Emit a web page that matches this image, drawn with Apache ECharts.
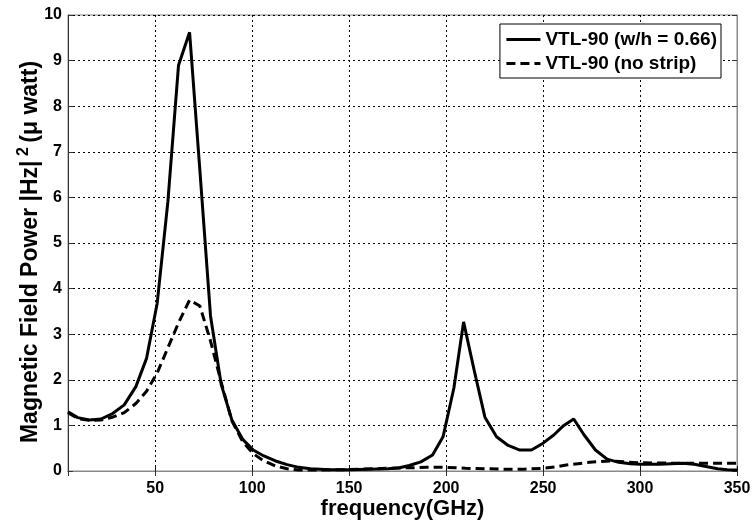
<!DOCTYPE html>
<html><head><meta charset="utf-8">
<script src="https://cdn.jsdelivr.net/npm/echarts@6/dist/echarts.min.js"></script>
<style>html,body{margin:0;padding:0;background:#fff}#c{width:752px;height:520px}</style>
</head><body><div id="c"></div>
<script>
// VTL-90 (w/h = 0.66)
const stripFreq = [5, 10, 16, 22, 28, 34, 40, 45.5, 51, 56.5, 62, 67.7, 73, 78.5, 84, 89.5, 95, 100.5, 106, 112, 118, 124, 130, 140, 150, 160, 170, 176, 181, 187, 193, 198.4, 204, 209, 214.5, 220, 226, 232, 238, 244, 250, 255.5, 260.7, 265.8, 271, 277, 283, 289, 295, 300, 310, 322, 328, 334, 340, 345, 350];
const stripPower = [1.30, 1.17, 1.12, 1.14, 1.26, 1.45, 1.85, 2.47, 3.68, 5.9, 8.9, 9.62, 6.6, 3.4, 1.9, 1.12, 0.7, 0.46, 0.33, 0.22, 0.14, 0.08, 0.05, 0.03, 0.03, 0.04, 0.05, 0.07, 0.12, 0.2, 0.35, 0.75, 1.82, 3.27, 2.2, 1.18, 0.75, 0.56, 0.46, 0.46, 0.61, 0.79, 1.0, 1.14, 0.8, 0.46, 0.26, 0.19, 0.16, 0.15, 0.15, 0.17, 0.15, 0.10, 0.05, 0.03, 0.02];
// VTL-90 (no strip)
const noStripFreq = [5, 10, 16, 22, 28, 34, 40, 45.5, 51, 56.5, 62, 67.7, 73, 78.5, 84, 89.5, 95, 100.5, 106, 112, 118, 124, 130, 150, 170, 190, 200, 210, 220, 230, 240, 250, 256, 262, 268, 274, 280, 286, 292, 300, 320, 340, 350];
const noStripPower = [1.28, 1.15, 1.11, 1.12, 1.18, 1.28, 1.48, 1.75, 2.15, 2.7, 3.25, 3.75, 3.62, 2.85, 1.95, 1.1, 0.65, 0.38, 0.22, 0.11, 0.05, 0.02, 0.02, 0.03, 0.06, 0.08, 0.08, 0.06, 0.05, 0.04, 0.04, 0.06, 0.09, 0.13, 0.16, 0.19, 0.21, 0.22, 0.2, 0.18, 0.17, 0.17, 0.17];
const seriesNames = ['VTL-90 (w/h = 0.66)', 'VTL-90 (no strip)'];
const xTitle = 'frequency(GHz)';
const xRange = [5, 350];
const yRange = [0, 10];

const pair = (xs, ys) => xs.map((x, i) => [x, ys[i]]);
const FONT = '"Liberation Sans", Arial, sans-serif';
const grid = {left: 68, right: 15, top: 15, bottom: 49};
const dotted = {show: true, lineStyle: {color: '#000', width: 1, type: [2, 3]}};

const chart = echarts.init(document.getElementById('c'), null, {renderer: 'canvas'});
chart.setOption({
  backgroundColor: '#fff',
  animation: false,
  grid: Object.assign({show: true, borderColor: '#888', borderWidth: 1, containLabel: false, outerBoundsMode: 'none'}, grid),
  legend: {
    right: 31, top: 24, orient: 'vertical',
    backgroundColor: '#fff', borderColor: '#000', borderWidth: 1,
    padding: [6, 4, 5, 5], itemGap: 5, itemWidth: 34, itemHeight: 14, itemTextGap: 3,
    itemStyle: {opacity: 0, borderWidth: 0},
    lineStyle: {width: 3},
    textStyle: {fontFamily: FONT, fontSize: 19, fontWeight: 'bold', color: '#000'},
    data: seriesNames
  },
  xAxis: [{
    type: 'value', min: xRange[0], max: xRange[1], splitNumber: 7,
    name: xTitle, nameLocation: 'middle', nameGap: 27, nameMoveOverlap: false,
    nameTextStyle: {fontFamily: FONT, fontSize: 22, fontWeight: 'bold', color: '#000'},
    axisLine: {show: true, onZero: false, lineStyle: {color: '#111', width: 1}},
    axisTick: {show: true, inside: true, length: 5, lineStyle: {color: '#111'}},
    axisLabel: {showMinLabel: false, margin: 10, fontFamily: FONT, fontSize: 16, fontWeight: 'bold', color: '#000'},
    splitLine: dotted
  }, {
    type: 'value', position: 'top', min: xRange[0], max: xRange[1], splitNumber: 7,
    axisLine: {show: true, lineStyle: {color: '#888'}},
    axisTick: {show: true, inside: true, length: 5, lineStyle: {color: '#333'}},
    axisLabel: {show: false}, splitLine: {show: false}
  }],
  yAxis: [{
    type: 'value', min: yRange[0], max: yRange[1], interval: 1,
    name: '{a|Magnetic Field Power |Hz|}{s| 2 }{a|(μ watt)}',
    nameLocation: 'middle', nameGap: 26, nameRotate: 90, nameMoveOverlap: false,
    nameTextStyle: {
      fontFamily: FONT, fontSize: 23, fontWeight: 'bold', color: '#000',
      padding: [0, 18, 0, 0],
      rich: {
        a: {fontFamily: FONT, fontSize: 23, fontWeight: 'bold', color: '#000', lineHeight: 26, verticalAlign: 'bottom'},
        s: {fontFamily: FONT, fontSize: 16, fontWeight: 'bold', color: '#000', lineHeight: 26, verticalAlign: 'top'}
      }
    },
    axisLine: {show: true, onZero: false, lineStyle: {color: '#333', width: 1}},
    axisTick: {show: true, inside: true, length: 5, lineStyle: {color: '#333'}},
    axisLabel: {margin: 6, fontFamily: FONT, fontSize: 16, fontWeight: 'bold', color: '#000'},
    splitLine: dotted
  }, {
    type: 'value', position: 'right', min: yRange[0], max: yRange[1], interval: 1,
    axisLine: {show: true, lineStyle: {color: '#888'}},
    axisTick: {show: true, inside: true, length: 5, lineStyle: {color: '#333'}},
    axisLabel: {show: false}, splitLine: {show: false}
  }],
  series: [{
    name: seriesNames[0], type: 'line', xAxisIndex: 0, yAxisIndex: 0,
    data: pair(stripFreq, stripPower), symbol: 'none', smooth: false,
    lineStyle: {color: '#000', width: 3, type: 'solid'},
    itemStyle: {color: '#000'}
  }, {
    name: seriesNames[1], type: 'line', xAxisIndex: 0, yAxisIndex: 0,
    data: pair(noStripFreq, noStripPower), symbol: 'none', smooth: false,
    lineStyle: {color: '#000', width: 3, type: [9, 5]},
    itemStyle: {color: '#000'}
  }]
});
</script></body></html>
